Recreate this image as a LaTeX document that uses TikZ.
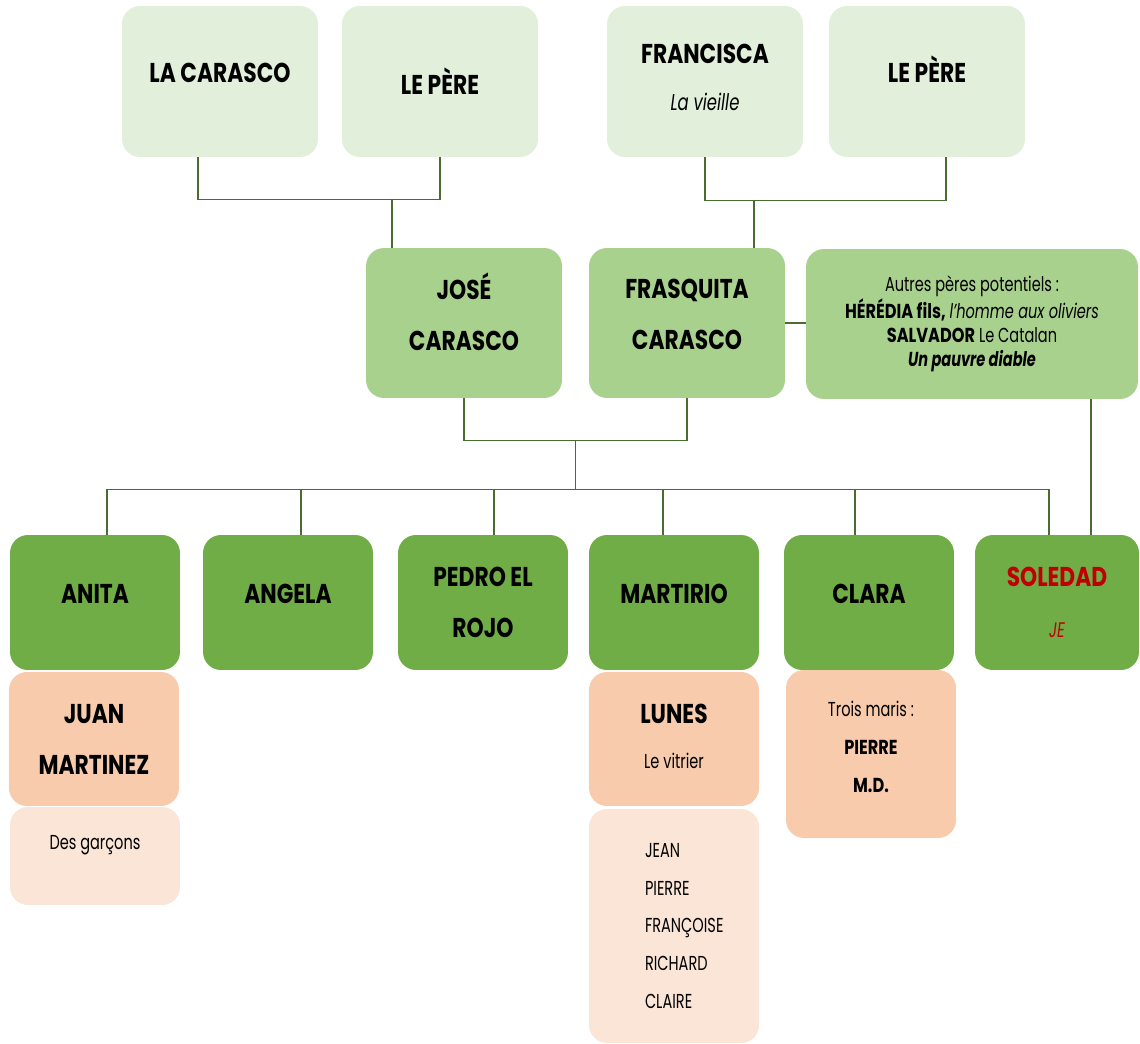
\documentclass[tikz,border=0pt]{standalone}
\usepackage{fontspec}
\setmainfont{Poppins}[FakeStretch=0.72, BoldFeatures={FakeStretch=0.8}]
\usepackage{tikz}
\usetikzlibrary{positioning,calc}
\usepackage{xcolor}

\definecolor{vertpale}{HTML}{E2EFDA}
\definecolor{vertmoyen}{HTML}{A9D18E}
\definecolor{vertfonce}{HTML}{70AD47}
\definecolor{peche}{HTML}{F8CBAD}
\definecolor{pechepale}{HTML}{FBE5D6}
\definecolor{trait}{HTML}{476D2F}
\definecolor{rouge}{HTML}{C00000}

\newcommand{\policeNom}{\bfseries\fontsize{15.5}{29}\selectfont}
\newcommand{\policeTexte}{\fontsize{11.5}{21.5}\selectfont}

\begin{document}
\begin{tikzpicture}[x=0.02cm, y=-0.02cm,
    boite/.style={rectangle, rounded corners=0.36cm, align=center, inner sep=2pt},
    aieul/.style={boite, fill=vertpale, minimum width=3.92cm, minimum height=3.02cm, font=\policeNom},
    parent/.style={boite, fill=vertmoyen, minimum width=3.92cm, minimum height=3cm, font=\policeNom},
    enfant/.style={boite, fill=vertfonce, minimum width=3.4cm, minimum height=2.7cm, font=\policeNom},
    conjoint/.style={boite, fill=peche, minimum width=3.4cm, minimum height=2.68cm, font=\policeNom},
    descendance/.style={boite, fill=pechepale, minimum width=3.4cm, font=\policeTexte},
    lien/.style={draw=trait, line width=0.8pt}
]
    \useasboundingbox (0,0) rectangle (1140,1044);

    % Grands-parents
    \node[aieul, text depth=9.6pt] (lacarasco) at (220,81.5) {LA CARASCO};
    \node[aieul] (pere1) at (440,81.5) {LE PÈRE};
    \node[aieul, text depth=5pt] (francisca) at (705,81.5)
        {FRANCISCA\\[-2pt]{\mdseries\itshape\fontsize{13}{20}\selectfont La vieille}};
    \node[aieul, text depth=13.6pt] (pere2) at (927,81.5) {LE PÈRE};

    % Parents
    \node[parent, text depth=13pt] (jose) at (464,323) {JOSÉ\\CARASCO};
    \node[parent, text depth=9.5pt] (frasquita) at (687,323) {FRASQUITA\\CARASCO};
    \node[boite, fill=vertmoyen, minimum width=6.64cm, minimum height=3cm,
          font=\fontsize{11.5}{13.6}\selectfont] (autres) at (972,324)
        {Autres pères potentiels :\\
         \textbf{HÉRÉDIA fils,} \textit{l’homme aux oliviers}\\
         \textbf{SALVADOR} Le Catalan\\
         \textbf{\textit{Un pauvre diable}}};

    % Enfants
    \node[enfant, text depth=9.6pt] (anita) at (95,602.5) {ANITA};
    \node[enfant, text depth=9.6pt] (angela) at (288,602.5) {ANGELA};
    \node[enfant] (pedro) at (483,602.5) {PEDRO EL\\ROJO};
    \node[enfant, text depth=9.6pt] (martirio) at (674,602.5) {MARTIRIO};
    \node[enfant, text depth=9.6pt] (clara) at (869,602.5) {CLARA};
    \node[enfant, minimum width=3.28cm, text=rouge] (soledad) at (1057,602.5)
        {SOLEDAD\\{\mdseries\itshape\fontsize{12}{20}\selectfont JE}};

    % Conjoints
    \node[conjoint] (juan) at (94,739) {JUAN\\MARTINEZ};
    \node[conjoint, text depth=3pt] (lunes) at (674,739) {LUNES\\[-3.5pt]{\mdseries\fontsize{11.5}{20}\selectfont Le vitrier}};
    \node[conjoint, minimum height=3.36cm, font=\policeTexte, text depth=8pt] (maris) at (871,754)
        {Trois maris :\\\textbf{PIERRE}\\\textbf{M.D.}};

    % Petits-enfants
    \node[descendance, minimum height=1.96cm, text depth=15pt] (garcons) at (95,856) {Des garçons};
    \node[descendance, minimum height=4.68cm, text width=1.16cm, align=left] (petits) at (674,926)
        {JEAN\\PIERRE\\FRANÇOISE\\RICHARD\\CLAIRE};

    % Liens des grands-parents
    \draw[lien] ([xshift=-0.44cm]lacarasco.south) |- ([yshift=-0.84cm]pere1.south) coordinate (u1) -- (pere1.south);
    \draw[lien] ([xshift=-1.44cm]jose.north) -- ([xshift=-1.44cm]jose.north |- u1);
    \draw[lien] (francisca.south) |- ([xshift=0.38cm, yshift=-0.86cm]pere2.south) coordinate (u2) -- ([xshift=0.38cm]pere2.south);
    \draw[lien] ([xshift=1.34cm]frasquita.north) -- ([xshift=1.34cm]frasquita.north |- u2);

    % Liens des parents
    \draw[lien] (jose.south) |- ([yshift=-0.84cm]frasquita.south) coordinate (u3) -- (frasquita.south);
    \draw[lien] (frasquita.east) -- (frasquita.east -| autres.west);
    \draw[lien] ([xshift=2.38cm]autres.south) -- ([xshift=2.38cm]autres.south |- soledad.north);
    \coordinate (couple) at ($(jose.south |- u3)!0.5!(u3)$);
    \coordinate (fratrie) at ($(couple)+(0,49)$);
    \draw[lien] (couple) -- (fratrie);
    \draw[lien] ([xshift=0.24cm]anita.north |- fratrie) -- ([xshift=-0.16cm]soledad.north |- fratrie);
    \foreach \n/\dx in {anita/0.24,angela/0.26,pedro/0.22,martirio/-0.22,clara/-0.28,soledad/-0.16} {
        \draw[lien] ([xshift=\dx cm]\n.north) -- ([xshift=\dx cm]\n.north |- fratrie);
    }
\end{tikzpicture}
\end{document}
